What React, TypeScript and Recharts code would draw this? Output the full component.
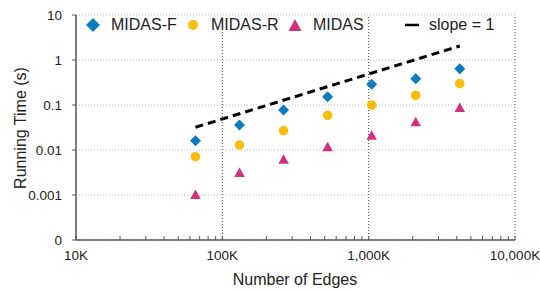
import * as React from "react";
import {
  ScatterChart,
  Scatter,
  XAxis,
  YAxis,
  CartesianGrid,
  ReferenceLine,
  Label,
} from "recharts";

const edges = [65536, 131072, 262144, 524288, 1048576, 2097152, 4194304];
const midasF = [0.016, 0.036, 0.077, 0.153, 0.288, 0.385, 0.64];
const midasR = [0.0071, 0.0129, 0.027, 0.059, 0.1, 0.164, 0.3];
const midas = [0.00104, 0.0032, 0.0063, 0.0119, 0.0215, 0.043, 0.089];
const slopeEdges = [65536, 4194304];
const slopeTimes = [0.032, 2.048];

const xMajorTicks = [10000, 100000, 1000000, 10000000];
const xMinorTicks = [
  20000, 30000, 40000, 50000, 60000, 70000, 80000, 90000,
  200000, 300000, 400000, 500000, 600000, 700000, 800000, 900000,
  2000000, 3000000, 4000000, 5000000, 6000000, 7000000, 8000000, 9000000,
];
const yTicks = [0.0001, 0.001, 0.01, 0.1, 1, 10];
const xGridLines = [100000, 1000000, 10000000];

const BLUE = "#0c7bc0";
const YELLOW = "#fbbd0b";
const MAGENTA = "#d1307e";
const AXIS = "#555";
const TEXT = "#222";
const FONT = '"Liberation Sans", Arial, sans-serif';

const toPoints = (xs: number[], ys: number[]) =>
  xs.map((x, i) => ({ x, y: ys[i] }));

const Diamond = ({ cx, cy, s = 5.5, fill = BLUE }: any) => (
  <polygon
    points={`${cx},${cy - s} ${cx + s},${cy} ${cx},${cy + s} ${cx - s},${cy}`}
    fill={fill}
  />
);
const Dot = ({ cx, cy, r = 4.8, fill = YELLOW }: any) => (
  <circle cx={cx} cy={cy} r={r} fill={fill} />
);
const Triangle = ({ cx, cy, w = 10.5, h = 9.5, fill = MAGENTA }: any) => (
  <polygon
    points={`${cx},${cy - h / 2} ${cx + w / 2},${cy + h / 2} ${cx - w / 2},${cy + h / 2}`}
    fill={fill}
  />
);

function XTick({ x, y, payload }: any) {
  const v = payload.value;
  const axisY = y - 10;
  const major = xMajorTicks.includes(v);
  return (
    <g>
      <line x1={x} x2={x} y1={axisY} y2={axisY - 4} stroke={AXIS} strokeWidth={1} />
      {major && (
        <text
          x={x}
          y={y}
          dy="0.71em"
          textAnchor="middle"
          fontSize={13.5}
          fill={TEXT}
          fontFamily={FONT}
        >
          {(v / 1000).toLocaleString("en-US") + "K"}
        </text>
      )}
    </g>
  );
}

const legendItems = [
  { name: "MIDAS-F", left: 86, icon: "diamond" },
  { name: "MIDAS-R", left: 186, icon: "circle" },
  { name: "MIDAS", left: 288, icon: "triangle" },
  { name: "slope = 1", left: 402, icon: "line" },
];

function LegendIcon({ kind }: { kind: string }) {
  return (
    <svg width={20} height={16} style={{ display: "block" }}>
      {kind === "diamond" && <Diamond cx={7} cy={8} s={7} />}
      {kind === "circle" && <Dot cx={7} cy={8} r={5} />}
      {kind === "triangle" && <Triangle cx={7} cy={8} w={13} h={12} />}
      {kind === "line" && (
        <line x1={3} x2={17} y1={8} y2={8} stroke="#000" strokeWidth={2.5} />
      )}
    </svg>
  );
}

export default function App() {
  return (
    <div
      style={{
        position: "absolute",
        left: 0,
        top: 0,
        width: 540,
        height: 290,
        background: "#fff",
        fontFamily: FONT,
      }}
    >
      <ScatterChart
        width={540}
        height={290}
        margin={{ top: 15, right: 25, left: 0, bottom: 0 }}
        style={{ fontFamily: FONT }}
      >
        <CartesianGrid
          vertical={false}
          stroke="#bbb"
          strokeDasharray="1 2"
        />
        {xGridLines.map((v) => (
          <ReferenceLine
            key={v}
            x={v}
            stroke="#444"
            strokeDasharray="1 2"
            strokeWidth={1}
          />
        ))}
        <XAxis
          type="number"
          dataKey="x"
          scale="log"
          domain={[10000, 10000000]}
          ticks={[...xMajorTicks, ...xMinorTicks]}
          interval={0}
          allowDataOverflow
          height={50}
          tickSize={4}
          tickMargin={6}
          tickLine={false}
          axisLine={{ stroke: AXIS, strokeWidth: 1.5 }}
          tick={<XTick />}
        >
          <Label
            content={() => (
              <text
                x={295}
                y={285}
                textAnchor="middle"
                fontSize={16}
                fill={TEXT}
                fontFamily={FONT}
              >
                Number of Edges
              </text>
            )}
          />
        </XAxis>
        <YAxis
          type="number"
          dataKey="y"
          scale="log"
          domain={[0.0001, 10]}
          ticks={yTicks}
          interval={0}
          allowDataOverflow
          width={76}
          tickSize={4}
          tickMargin={10}
          tickLine={{ stroke: AXIS, strokeWidth: 1 }}
          axisLine={{ stroke: AXIS, strokeWidth: 1.5 }}
          tick={{ fontSize: 13.5, fill: TEXT, fontFamily: FONT }}
          tickFormatter={(v: number) => (v === 0.0001 ? "0" : String(v))}
        >
          <Label
            content={() => (
              <text
                x={20}
                y={128}
                transform="rotate(-90 20 128)"
                textAnchor="middle"
                dominantBaseline="central"
                fontSize={16}
                fill={TEXT}
                fontFamily={FONT}
              >
                Running Time (s)
              </text>
            )}
          />
        </YAxis>
        <Scatter
          name="slope = 1"
          data={toPoints(slopeEdges, slopeTimes)}
          line={{ stroke: "#000", strokeWidth: 3, strokeDasharray: "8 5" }}
          shape={() => <g />}
          isAnimationActive={false}
        />
        <Scatter
          name="MIDAS-F"
          data={toPoints(edges, midasF)}
          shape={(p: any) => <Diamond cx={p.cx} cy={p.cy} />}
          isAnimationActive={false}
        />
        <Scatter
          name="MIDAS-R"
          data={toPoints(edges, midasR)}
          shape={(p: any) => <Dot cx={p.cx} cy={p.cy} />}
          isAnimationActive={false}
        />
        <Scatter
          name="MIDAS"
          data={toPoints(edges, midas)}
          shape={(p: any) => <Triangle cx={p.cx} cy={p.cy} />}
          isAnimationActive={false}
        />
      </ScatterChart>
      {legendItems.map((it) => (
        <div
          key={it.name}
          style={{
            position: "absolute",
            top: 17,
            left: it.left,
            display: "flex",
            alignItems: "center",
            height: 16,
            fontSize: 16,
            color: TEXT,
            whiteSpace: "nowrap",
          }}
        >
          <LegendIcon kind={it.icon} />
          <span style={{ marginLeft: it.icon === "line" ? 7 : 5 }}>{it.name}</span>
        </div>
      ))}
    </div>
  );
}
